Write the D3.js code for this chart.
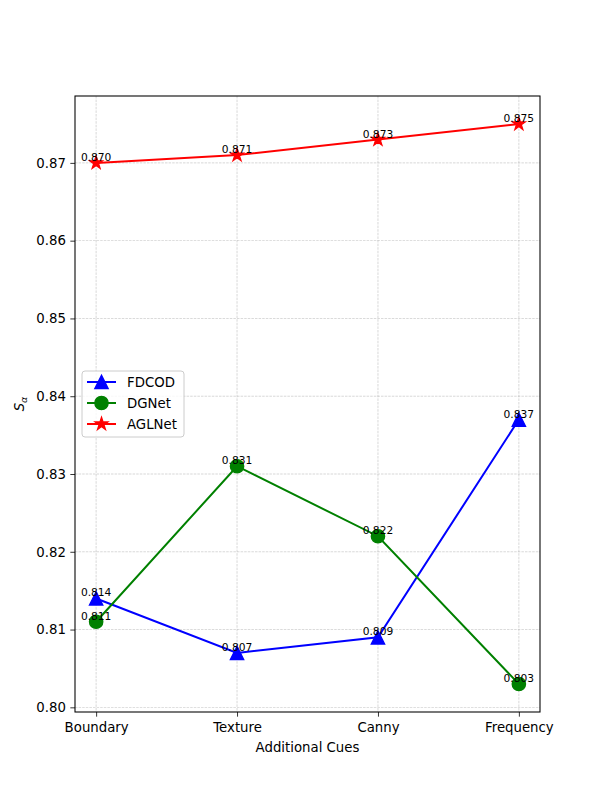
<!DOCTYPE html>
<html>
<head>
<meta charset="utf-8">
<script src="https://cdn.jsdelivr.net/npm/d3@7"></script>
<style>
  body { margin: 0; background: #fff; }
  text { font-family: "DejaVu Sans", sans-serif; }
</style>
</head>
<body>
<div class="chart"></div>
<script>
// data
var categories = ["Boundary", "Texture", "Canny", "Frequency"];
var seriesNames = ["FDCOD", "DGNet", "AGLNet"];
var fdcod = [0.814, 0.807, 0.809, 0.837];
var dgnet = [0.811, 0.831, 0.822, 0.803];
var aglnet = [0.870, 0.871, 0.873, 0.875];
var yTicks = [0.80, 0.81, 0.82, 0.83, 0.84, 0.85, 0.86, 0.87];
var colors = ["blue", "green", "red"];
var markers = ["triangle", "circle", "star"];

drawChart();

function drawChart() {
  var width = 600, height = 800;
  var margin = {top: 96, right: 60, bottom: 88, left: 75};
  var w = width - margin.left - margin.right;
  var h = height - margin.top - margin.bottom;
  var allSeries = [fdcod, dgnet, aglnet];

  var svg = d3.select(".chart").append("svg")
      .attr("width", width)
      .attr("height", height);
  var g = svg.append("g")
      .attr("transform", "translate(" + margin.left + "," + margin.top + ")");

  // matplotlib style 5% margins
  var xScale = d3.scaleLinear().domain([-0.15, 3.15]).range([0, w]);
  var allVals = [].concat(fdcod, dgnet, aglnet);
  var lo = d3.min(allVals), hi = d3.max(allVals), pad = (hi - lo) * 0.05;
  var yScale = d3.scaleLinear().domain([lo - pad, hi + pad]).range([h, 0]);

  // grid
  g.append("g").selectAll("line").data(yTicks).enter().append("line")
      .attr("x1", 0).attr("x2", w)
      .attr("y1", function(d) { return yScale(d); })
      .attr("y2", function(d) { return yScale(d); })
      .attr("stroke", "#b0b0b0").attr("stroke-width", 0.6)
      .attr("stroke-dasharray", "2.5,1.1").attr("opacity", 0.8);
  g.append("g").selectAll("line").data(categories).enter().append("line")
      .attr("y1", 0).attr("y2", h)
      .attr("x1", function(d, i) { return xScale(i); })
      .attr("x2", function(d, i) { return xScale(i); })
      .attr("stroke", "#b0b0b0").attr("stroke-width", 0.6)
      .attr("stroke-dasharray", "2.5,1.1").attr("opacity", 0.8);

  // axes
  var xAxis = d3.axisBottom(xScale)
      .tickValues(d3.range(categories.length))
      .tickFormat(function(i) { return categories[i]; })
      .tickSize(4.67).tickPadding(5.5);
  var yAxis = d3.axisLeft(yScale)
      .tickValues(yTicks)
      .tickFormat(d3.format(".2f"))
      .tickSize(4.67).tickPadding(4.5);

  var xg = g.append("g").attr("transform", "translate(0," + h + ")").call(xAxis);
  var yg = g.append("g").call(yAxis);
  [xg, yg].forEach(function(a) {
    a.select(".domain").remove();
    a.selectAll("line").attr("stroke", "#000").attr("stroke-width", 0.8);
    a.selectAll("text").attr("fill", "#000").style("font-size", "13.3px")
      .style("font-family", "DejaVu Sans");
  });

  // frame
  g.append("rect").attr("width", w).attr("height", h)
      .attr("fill", "none").attr("stroke", "#000").attr("stroke-width", 1.07);

  var line = d3.line()
      .x(function(d, i) { return xScale(i); })
      .y(function(d) { return yScale(d); });

  function markerPath(type) {
    var r = 6.67;
    if (type === "triangle") {
      return "M0," + (-r) + "L" + (-r) + "," + r + "L" + r + "," + r + "Z";
    }
    if (type === "circle") {
      return "M" + r + ",0A" + r + "," + r + " 0 1,1 " + (-r) + ",0A" + r + "," + r + " 0 1,1 " + r + ",0Z";
    }
    var pts = [], inner = r * 0.381966;
    for (var k = 0; k < 10; k++) {
      var rr = k % 2 === 0 ? r : inner;
      var a = -Math.PI / 2 + k * Math.PI / 5;
      pts.push([rr * Math.cos(a), rr * Math.sin(a)]);
    }
    return "M" + pts.join("L") + "Z";
  }

  allSeries.forEach(function(vals, s) {
    g.append("path").attr("d", line(vals))
        .attr("fill", "none").attr("stroke", colors[s]).attr("stroke-width", 2);
    g.append("g").selectAll("path").data(vals).enter().append("path")
        .attr("d", markerPath(markers[s]))
        .attr("transform", function(d, i) { return "translate(" + xScale(i) + "," + yScale(d) + ")"; })
        .attr("fill", colors[s]).attr("stroke", colors[s]).attr("stroke-width", 1.33)
        .attr("stroke-linejoin", "miter");
  });

  // value labels
  allSeries.forEach(function(vals) {
    g.append("g").selectAll("text").data(vals).enter().append("text")
        .attr("x", function(d, i) { return xScale(i); })
        .attr("y", function(d) { return yScale(d) - 2; })
        .attr("text-anchor", "middle")
        .style("font-size", "10.67px")
        .text(function(d) { return d.toFixed(3); });
  });

  // legend, center left
  var legW = 102, legH = 66;
  var lg = g.append("g").attr("transform", "translate(7," + (h / 2 - legH / 2) + ")");
  lg.append("rect").attr("width", legW).attr("height", legH).attr("rx", 3)
      .attr("fill", "#fff").attr("fill-opacity", 0.8)
      .attr("stroke", "#cccccc").attr("stroke-width", 1);
  seriesNames.forEach(function(name, s) {
    var yy = 11 + s * 21;
    lg.append("line").attr("x1", 5).attr("x2", 34).attr("y1", yy).attr("y2", yy)
        .attr("stroke", colors[s]).attr("stroke-width", 2);
    lg.append("path").attr("d", markerPath(markers[s]))
        .attr("transform", "translate(19.5," + yy + ")")
        .attr("fill", colors[s]).attr("stroke", colors[s]).attr("stroke-width", 1.33);
    lg.append("text").attr("x", 45).attr("y", yy + 4.7)
        .style("font-size", "13.3px").text(name);
  });

  // axis titles
  svg.append("text")
      .attr("x", margin.left + w / 2).attr("y", 752)
      .attr("text-anchor", "middle").style("font-size", "13.3px")
      .text("Additional Cues");
  svg.append("text")
      .attr("transform", "translate(24," + (margin.top + h / 2) + ") rotate(-90)")
      .attr("text-anchor", "middle").style("font-size", "13.3px")
      .html("<tspan font-style='italic'>S</tspan><tspan font-style='italic' font-size='9.5px' dy='3'>α</tspan>");
}
</script>
</body>
</html>
